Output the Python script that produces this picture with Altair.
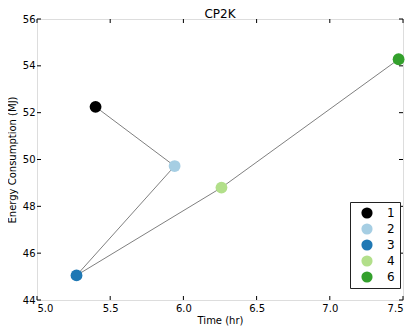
import altair as alt
import pandas as pd

labels = ["1", "2", "3", "4", "6"]
time_hr = [5.40, 5.94, 5.27, 6.26, 7.47]
energy_mj = [52.25, 49.72, 45.05, 48.80, 54.28]
colors = ["#000000", "#a6cee3", "#1f78b4", "#b2df8a", "#33a02c"]
x_ticks = [5.0, 5.5, 6.0, 6.5, 7.0, 7.5]
y_ticks = [44, 46, 48, 50, 52, 54, 56]

W, H = 366, 281
FONT = "DejaVu Sans"

df = pd.DataFrame({"label": labels, "time": time_hr, "energy": energy_mj,
                   "idx": list(range(len(labels)))})
xt = pd.DataFrame({"t": x_ticks})
yt = pd.DataFrame({"e": y_ticks})

xs = alt.Scale(domain=[5.0, 7.5], nice=False, zero=False)
ys = alt.Scale(domain=[44, 56], nice=False, zero=False)

xaxis = alt.Axis(values=x_ticks, format=".1f", ticks=False, domain=False, grid=False,
                 labelFont=FONT, labelFontSize=10, labelColor="black", labelPadding=3,
                 title="Time (hr)", titleFont=FONT, titleFontSize=10,
                 titleFontWeight="normal", titleColor="black", titlePadding=2)
yaxis = alt.Axis(values=y_ticks, format="d", ticks=False, domain=False, grid=False,
                 labelFont=FONT, labelFontSize=10, labelColor="black", labelPadding=2,
                 title="Energy Consumption (MJ)", titleFont=FONT, titleFontSize=10,
                 titleFontWeight="normal", titleColor="black", titlePadding=5)

line = alt.Chart(df).mark_line(color="#808080", strokeWidth=1).encode(
    x=alt.X("time:Q", scale=xs, axis=xaxis),
    y=alt.Y("energy:Q", scale=ys, axis=yaxis),
    order=alt.Order("idx:Q"),
)

points = alt.Chart(df).mark_circle(size=140, opacity=1).encode(
    x=alt.X("time:Q", scale=xs),
    y=alt.Y("energy:Q", scale=ys),
    color=alt.Color("label:N", scale=alt.Scale(domain=labels, range=colors),
                    legend=alt.Legend(title=None, orient="none", legendX=313, legendY=183,
                                      strokeColor="#222", fillColor="white",
                                      padding=5, symbolType="circle", symbolSize=125,
                                      symbolStrokeWidth=0, symbolOpacity=1,
                                      labelFont=FONT, labelFontSize=12, labelColor="black",
                                      labelOffset=14, rowPadding=4, symbolOffset=6,
                                      labelLimit=30)),
)

tick_len = 4
bot = alt.Chart(xt).mark_rule(color="black", strokeWidth=1).encode(
    x=alt.X("t:Q", scale=xs), y=alt.value(H), y2=alt.value(H - tick_len))
top = alt.Chart(xt).mark_rule(color="black", strokeWidth=1).encode(
    x=alt.X("t:Q", scale=xs), y=alt.value(0), y2=alt.value(tick_len))
left = alt.Chart(yt).mark_rule(color="black", strokeWidth=1).encode(
    y=alt.Y("e:Q", scale=ys), x=alt.value(0), x2=alt.value(tick_len))
right = alt.Chart(yt).mark_rule(color="black", strokeWidth=1).encode(
    y=alt.Y("e:Q", scale=ys), x=alt.value(W), x2=alt.value(W - tick_len))

chart = alt.layer(line, bot, top, left, right, points).properties(
    width=W, height=H,
    title=alt.Title("CP2K", font=FONT, fontSize=12, fontWeight="normal",
                    color="black", offset=-7, frame="group"),
    autosize=alt.AutoSizeParams(type="none"),
    padding={"left": 29, "top": 11, "right": 7, "bottom": 26},
).configure_view(stroke="#808080", strokeWidth=2).configure(background="white")

chart.save("out.html", embed_options={"renderer": "svg", "actions": False})
